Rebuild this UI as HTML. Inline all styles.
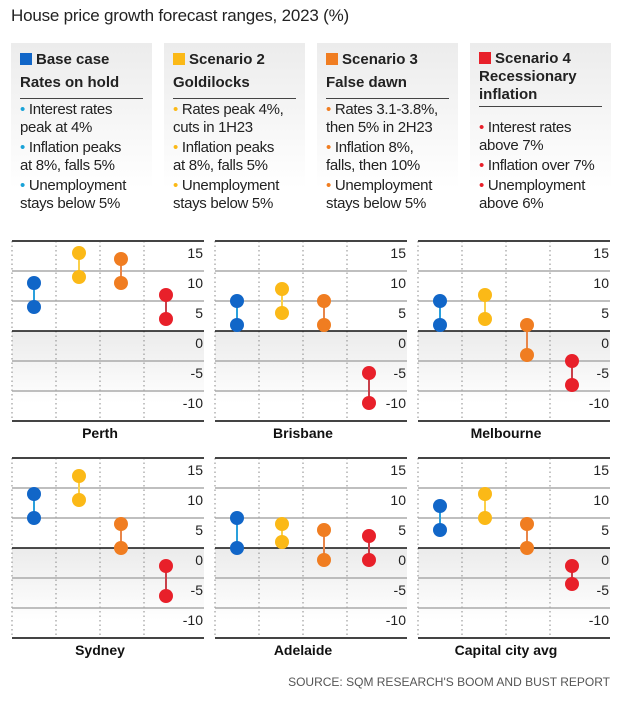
<!DOCTYPE html>
<html><head><meta charset="utf-8">
<style>
body{margin:0;width:622px;height:702px;background:#fff;font-family:"Liberation Sans",sans-serif;color:#222;overflow:hidden;position:relative}
.title{position:absolute;left:11px;top:6px;font-size:17px;color:#222;letter-spacing:-0.2px}
.box{position:absolute;top:43px;width:141px;height:172px;background:linear-gradient(#ececec,#ffffff 85%)}
.box .h{position:absolute;left:9px;top:5px;font-weight:bold;font-size:15px;line-height:23px;width:132px;white-space:nowrap}
.box .sq{display:inline-block;width:12px;height:12px;margin-right:4px;vertical-align:-1px}
.box .rule{position:absolute;left:9px;right:9px;top:55px;border-top:1.5px solid #444}
.box ul{position:absolute;left:9px;top:58px;margin:0;padding:0;list-style:none;font-size:15px;line-height:18px;white-space:nowrap;letter-spacing:-0.3px}
.box li{margin-bottom:2px}
.box li b{font-weight:normal;font-size:15px}
.src{position:absolute;right:12px;top:675px;font-size:12px;color:#555}
</style></head><body>
<div class="title">House price growth forecast ranges, 2023 (%)</div>

<div class="box" style="left:11px">
<div class="h"><span class="sq" style="background:#1166c8"></span>Base case<br>Rates on hold</div><div class="rule"></div>
<ul><li><b style="color:#1aa3d8">•</b> Interest rates<br>peak at 4%</li><li><b style="color:#1aa3d8">•</b> Inflation peaks<br>at 8%, falls 5%</li><li><b style="color:#1aa3d8">•</b> Unemployment<br>stays below 5%</li></ul></div>

<div class="box" style="left:164px">
<div class="h"><span class="sq" style="background:#fbb917"></span>Scenario 2<br>Goldilocks</div><div class="rule"></div>
<ul><li><b style="color:#fbb917">•</b> Rates peak 4%,<br>cuts in 1H23</li><li><b style="color:#fbb917">•</b> Inflation peaks<br>at 8%, falls 5%</li><li><b style="color:#fbb917">•</b> Unemployment<br>stays below 5%</li></ul></div>

<div class="box" style="left:317px">
<div class="h"><span class="sq" style="background:#f07d21"></span>Scenario 3<br>False dawn</div><div class="rule"></div>
<ul><li><b style="color:#f07d21">•</b> Rates 3.1-3.8%,<br>then 5% in 2H23</li><li><b style="color:#f07d21">•</b> Inflation 8%,<br>falls, then 10%</li><li><b style="color:#f07d21">•</b> Unemployment<br>stays below 5%</li></ul></div>

<div class="box" style="left:470px">
<div class="h" style="line-height:18px;top:7px"><span class="sq" style="background:#e8202a"></span>Scenario 4<br>Recessionary<br>inflation</div><div class="rule" style="top:63px"></div>
<ul style="top:76px"><li><b style="color:#e8202a">•</b> Interest rates<br>above 7%</li><li><b style="color:#e8202a">•</b> Inflation over 7%</li><li><b style="color:#e8202a">•</b> Unemployment<br>above 6%</li></ul></div>

<svg id="chart" width="622" height="702" style="position:absolute;left:0;top:0"></svg>
<div class="src">SOURCE: SQM RESEARCH'S BOOM AND BUST REPORT</div>

<script>
const cities = ["Perth","Brisbane","Melbourne","Sydney","Adelaide","Capital city avg"];
const baseHigh = [8,5,5,9,5,7];
const baseLow = [4,1,1,5,0,3];
const s2High = [13,7,6,12,4,9];
const s2Low = [9,3,2,8,1,5];
const s3High = [12,5,1,4,3,4];
const s3Low = [8,1,-4,0,-2,0];
const s4High = [6,-7,-5,-3,2,-3];
const s4Low = [2,-12,-9,-8,-2,-6];
const ticks = [15,10,5,0,-5,-10];

const NS="http://www.w3.org/2000/svg";
const svg=document.getElementById('chart');
function mk(tag,attrs,parent){const e=document.createElementNS(NS,tag);for(const k in attrs)e.setAttribute(k,attrs[k]);(parent||svg).appendChild(e);return e;}
const defs=mk('defs',{});
const lg=mk('linearGradient',{id:'band',x1:0,y1:0,x2:0,y2:1},defs);
mk('stop',{offset:0,'stop-color':'#ebebeb'},lg);mk('stop',{offset:0.8,'stop-color':'#fff'},lg);
const W=192, unit=6;
const panelX=[12,215,418], rowTop=[241,458];
const series=[
 {hi:baseHigh,lo:baseLow,c:"#1166c8",lc:"#2aa0dc",x:22,n:"base-case"},
 {hi:s2High,lo:s2Low,c:"#fbb917",lc:"#fbd04a",x:67,n:"scenario-2"},
 {hi:s3High,lo:s3Low,c:"#f07d21",lc:"#e8864a",x:109,n:"scenario-3"},
 {hi:s4High,lo:s4Low,c:"#e8202a",lc:"#c8404a",x:154,n:"scenario-4"}];
cities.forEach((city,i)=>{
  const px=panelX[i%3], top=rowTop[Math.floor(i/3)];
  const y=v=>top+(15-v)*unit;
  const g=mk('g',{});
  
  
  mk('rect',{x:px,y:y(0),width:W,height:y(-15)-y(0),fill:'url(#band)'},g);
  [0,44,88,132].forEach(dx=>mk('line',{x1:px+dx,x2:px+dx,y1:top,y2:y(-15),stroke:'#888','stroke-width':1,'stroke-dasharray':'1.5,3'},g));
  [10,5,-5,-10].forEach(v=>mk('line',{x1:px,x2:px+W,y1:y(v),y2:y(v),stroke:'#aaa','stroke-width':1.5},g));
  mk('line',{x1:px,x2:px+W,y1:y(0),y2:y(0),stroke:'#111','stroke-width':1.5},g);
  mk('line',{x1:px,x2:px+W,y1:top,y2:top,stroke:'#444','stroke-width':2},g);
  mk('line',{x1:px,x2:px+W,y1:y(-15),y2:y(-15),stroke:'#444','stroke-width':2},g);
  ticks.forEach(t=>{const tx=mk('text',{x:px+W-1,y:y(t)+17,'text-anchor':'end','font-size':14,fill:'#222','font-family':'Liberation Sans, sans-serif'},g);tx.textContent=String(t);
    
    });
  series.forEach(s=>{
    const cx=px+s.x;
    mk('line',{x1:cx,x2:cx,y1:y(s.hi[i]),y2:y(s.lo[i]),stroke:s.lc,'stroke-width':2},g);
    const a=mk('circle',{cx:cx,cy:y(s.hi[i]),r:7,fill:s.c},g);
    
    
    const b=mk('circle',{cx:cx,cy:y(s.lo[i]),r:7,fill:s.c},g);
    
    
  });
  const t=mk('text',{x:px+88,y:y(-15)+17,'text-anchor':'middle','font-size':14,'font-weight':'bold',fill:'#111','font-family':'Liberation Sans, sans-serif'},g);
  t.textContent=city;
  
  
});
</script>
</body></html>
